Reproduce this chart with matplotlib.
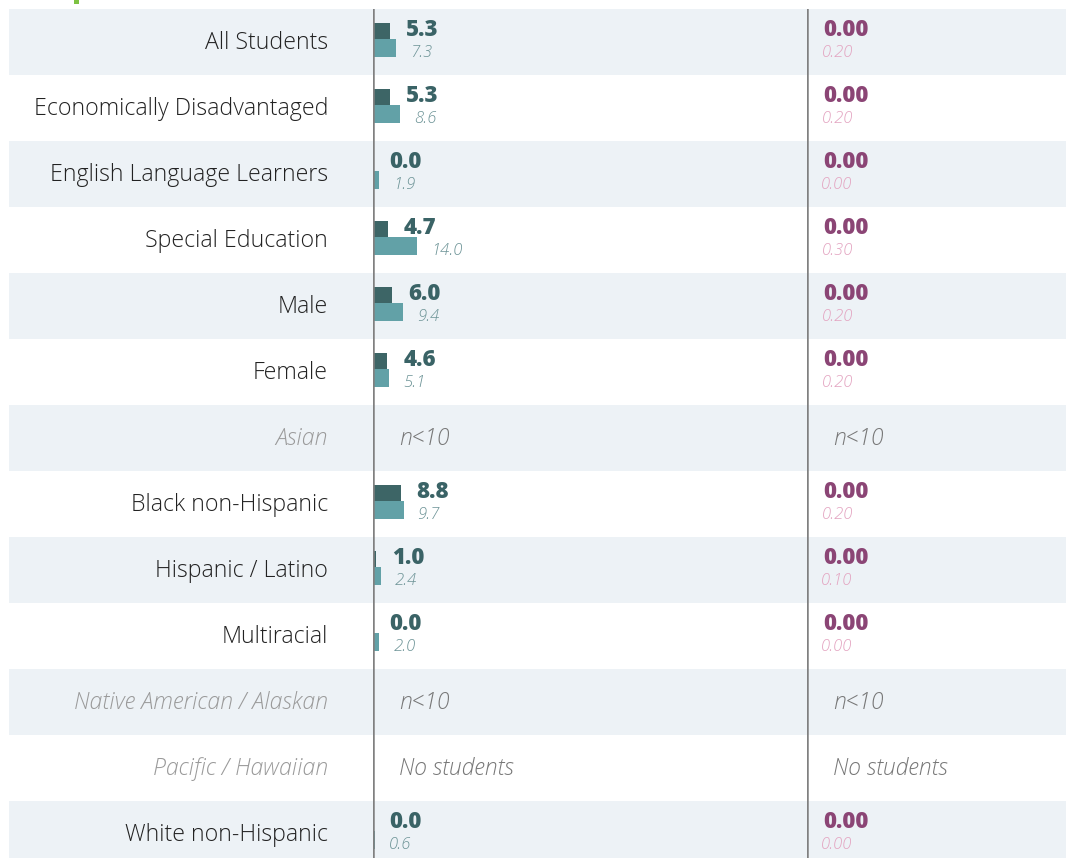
import matplotlib.pyplot as plt
from matplotlib import transforms

# ---------------------------------------------------------------
groups = ["All Students", "Economically Disadvantaged", "English Language Learners",
          "Special Education", "Male", "Female", "Asian", "Black non-Hispanic",
          "Hispanic / Latino", "Multiracial", "Native American / Alaskan",
          "Pacific / Hawaiian", "White non-Hispanic"]
school_pct = [5.3, 5.3, 0.0, 4.7, 6.0, 4.6, None, 8.8, 1.0, 0.0, None, None, 0.0]
compare_pct = [7.3, 8.6, 1.9, 14.0, 9.4, 5.1, None, 9.7, 2.4, 2.0, None, None, 0.6]
school_rate = [0.00, 0.00, 0.00, 0.00, 0.00, 0.00, None, 0.00, 0.00, 0.00, None, None, 0.00]
compare_rate = [0.20, 0.20, 0.00, 0.30, 0.20, 0.20, None, 0.20, 0.10, 0.00, None, None, 0.00]
notes = [None, None, None, None, None, None, "n<10", None, None, None, "n<10",
         "No students", None]
# ---------------------------------------------------------------

FONT = "Open Sans"
W, H = 1074, 858
DARK, LIGHT = "#3d6566", "#62a1a7"
TEAL_TXT, TEAL_SUB = "#3a6366", "#6c9396"
PURP_TXT, PURP_SUB = "#8b4575", "#e3a3c0"
BAND = "#edf2f6"
PX = 3.15  # pixels per percentage point

fig = plt.figure(figsize=(W / 100, H / 100), dpi=100)
n = len(groups)
row_h = 66
bottom = 1 - (9 + row_h * n) / H
height = row_h * n / H


def fx(px):
    return px / W


bg = fig.add_axes([fx(9), bottom, fx(1066 - 9), height])
bg.set_xlim(0, 1)
bg.set_ylim(n - 0.5, -0.5)
bg.axis("off")
for i in range(0, n, 2):
    bg.axhspan(i - 0.5, i + 0.5, color=BAND, lw=0, zorder=0)

# green heading, only its descenders peek in above the crop
fig.text(fx(12), 1 + 5 / H, "Suspension Rates (%)", color="#7dc242",
         fontsize=25, fontweight="bold", family=FONT, va="baseline", ha="left")

lbl_tr = transforms.blended_transform_factory(fig.transFigure, bg.transData)
for i, g in enumerate(groups):
    muted = notes[i] is not None
    bg.annotate(g, xy=(fx(328), i), xycoords=lbl_tr, xytext=(0, -7.5),
                textcoords="offset pixels", ha="right", va="baseline",
                fontsize=16.7, family=FONT, fontweight="light",
                fontstyle="italic" if muted else "normal",
                color="#9a9a9a" if muted else "#222222")


def column(left_px, main, comp, fmt, c_main, c_sub):
    ax = fig.add_axes([fx(left_px), bottom, fx(220), height], sharey=bg)
    ax.set_xlim(0, 220 / PX)
    ax.axis("off")
    ax.axvline(0, color="#808080", lw=1.8, zorder=3)
    for i in range(n):
        if notes[i] is not None:
            ax.annotate(notes[i], xy=(0, i), xytext=(26, -7.5),
                        textcoords="offset pixels", ha="left", va="baseline",
                        fontsize=16.5, family=FONT, fontweight="light",
                        fontstyle="italic", color="#777777")
            continue
        ax.barh(i - 11 / 66, main[i], height=16 / 66, color=DARK, lw=0)
        ax.barh(i + 6 / 66, comp[i], height=18 / 66, color=LIGHT, lw=0)
        ax.annotate(fmt.format(main[i]), xy=(main[i], i), xytext=(16, 6),
                    textcoords="offset pixels", ha="left", va="baseline",
                    fontsize=16, family=FONT, fontweight="heavy", color=c_main)
        ax.annotate(fmt.format(comp[i]), xy=(comp[i], i), xytext=(14, -15),
                    textcoords="offset pixels", ha="left", va="baseline",
                    fontsize=12, family=FONT, fontweight="light",
                    fontstyle="italic", color=c_sub)
    return ax


column(373, school_pct, compare_pct, "{:.1f}", TEAL_TXT, TEAL_SUB)
column(807, school_rate, compare_rate, "{:.2f}", PURP_TXT, PURP_SUB)

fig.savefig("out.png", dpi=100)
